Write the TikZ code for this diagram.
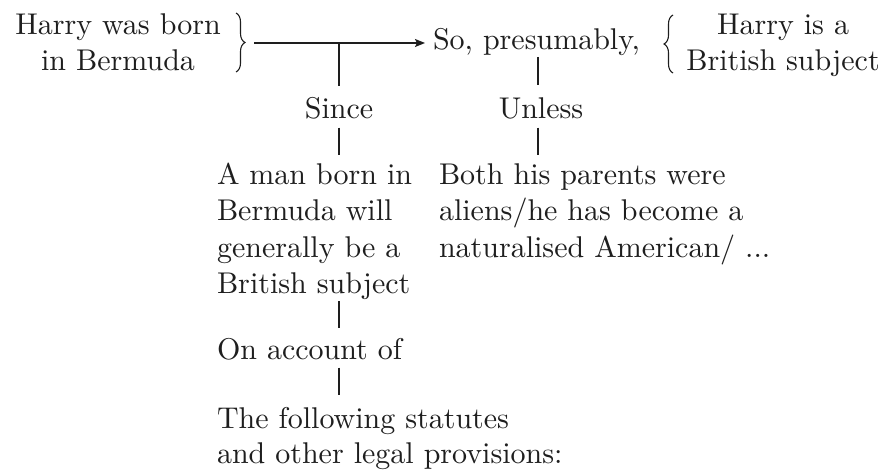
\documentclass[tikz,border=0pt]{standalone}
\usepackage{fontspec}
\setmainfont{lmroman10-regular.otf}
\usetikzlibrary{arrows.meta,decorations.pathreplacing}
\definecolor{ink}{HTML}{1E1E1E}
\begin{document}
\begin{tikzpicture}[x=1pt,y=-1pt,
  txt/.style={inner sep=0pt,outer sep=0pt,text=ink,font=\fontsize{30}{36}\selectfont},
  stem/.style={draw=ink,line width=1.7pt},
  flow/.style={draw=ink,line width=1.4pt,-{Stealth[length=10pt,width=8pt,inset=2pt]}},
  curly/.style={draw=ink,line width=1.1pt,decorate,decoration={brace,amplitude=9pt}}]
\path[use as bounding box] (0,0) rectangle (885,470);

% datum
\node[txt,anchor=base] (d1) at (118,35) {Harry was born};
\node[txt,anchor=base] (d2) at (118,71) {in Bermuda};
\draw[curly] (236,13) -- (236,72);

% qualifier and claim
\node[txt,anchor=base west] (so) at (433,50) {So, presumably,};
\draw[curly] (673,73) -- (673,15);
\node[txt,anchor=base] (c1) at (783,35) {Harry is a};
\node[txt,anchor=base] (c2) at (783,71) {British subject};

% main inference arrow with the two joins
\coordinate (dEnd) at (254,43);
\coordinate (wJoin) at (339,43);
\coordinate (rJoin) at (538,57);
\draw[flow,shorten >=8pt] (dEnd) -- (dEnd -| so.west);

% link words
\node[txt,anchor=base] (since) at (339,119) {Since};
\node[txt,anchor=base] (unless) at (541,119) {Unless};

% warrant
\node[txt,anchor=base west] (w1) at (217,185) {A man born in};
\node[txt,anchor=base west] (w2) at (217,221) {Bermuda will};
\node[txt,anchor=base west] (w3) at (217,257) {generally be a};
\node[txt,anchor=base west] (w4) at (217,293) {British subject};

% rebuttal
\node[txt,anchor=base west] (r1) at (439,185) {Both his parents were};
\node[txt,anchor=base west] (r2) at (439,221) {aliens/he has become a};
\node[txt,anchor=base west] (r3) at (439,257) {naturalised American/ ...};

% backing
\node[txt,anchor=base west] (acc) at (217,359) {On account of};
\node[txt,anchor=base west] (b1) at (217,428) {The following statutes};
\node[txt,anchor=base west] (b2) at (217,463) {and other legal provisions:};

% vertical stems
\draw[stem,shorten >=12pt] (wJoin) -- (wJoin |- since.north);
\draw[stem,shorten <=8pt,shorten >=9pt] (since.south) -- (since.south |- w1.north);
\draw[stem,shorten <=2pt,shorten >=10pt] (w4.south -| since.south) -- (since.south |- acc.north);
\draw[stem,shorten <=8pt,shorten >=12pt] (since.south |- acc.south) -- (since.south |- b1.north);
\draw[stem,shorten >=13pt] (rJoin) -- (rJoin |- unless.north);
\draw[stem,shorten <=8pt,shorten >=9pt] (rJoin |- unless.south) -- (rJoin |- r1.north);
\end{tikzpicture}
\end{document}
